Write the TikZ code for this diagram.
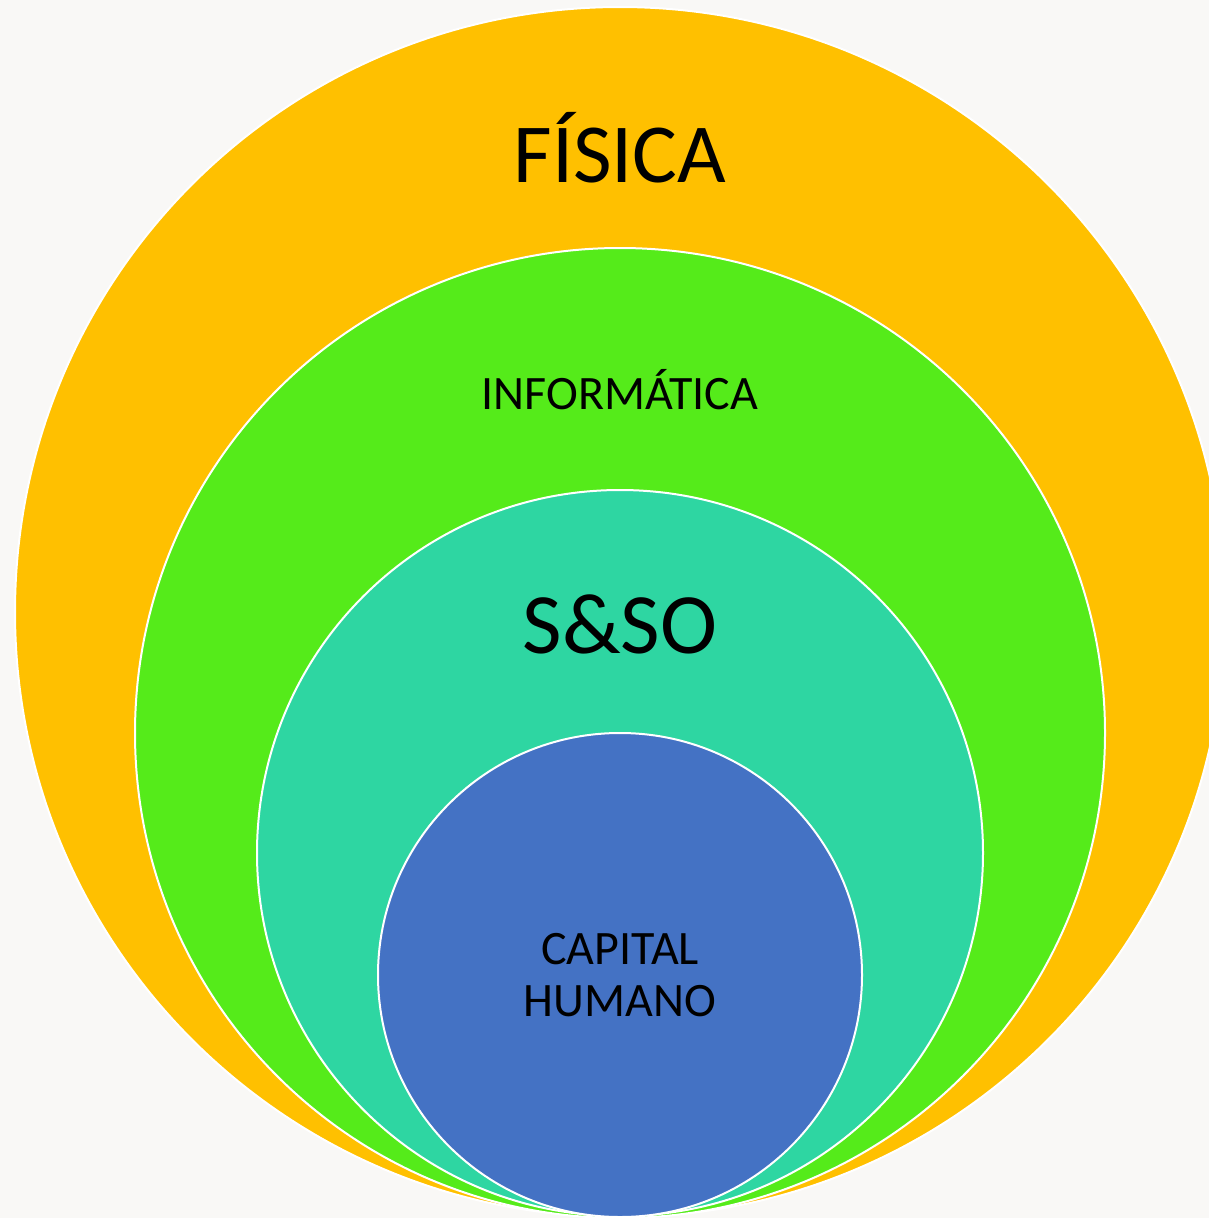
\documentclass[tikz,border=0pt]{standalone}
\usepackage{fontspec}
\setmainfont{Carlito}
\definecolor{bgc}{HTML}{F9F8F6}
\definecolor{orangec}{HTML}{FFC000}
\definecolor{greenc}{HTML}{55EB1A}
\definecolor{tealc}{HTML}{2ED6A2}
\definecolor{bluec}{HTML}{4472C4}
\tikzset{
  ring/.style={draw=white, line width=2pt},
  lbl/.style={inner sep=0pt, align=center, text=black},
}
\begin{document}
\begin{tikzpicture}[x=1pt,y=-1pt]
\useasboundingbox (0,0) rectangle (1209,1218);
\clip (0,0) rectangle (1209,1218);
\fill[bgc] (0,0) rectangle (1209,1218);
\fill[orangec, ring] (620,612) circle (605);
\fill[greenc, ring] (620,733) circle (485);
\fill[tealc, ring] (620,853) circle (363);
\fill[bluec, ring] (620,975) circle (242);
\node[lbl, font=\fontsize{84}{90}\selectfont] (fis) at (620,148) {FÍSICA};
\node[lbl, font=\fontsize{48}{52}\selectfont] (inf) at (620,390) {INFORMÁTICA};
\node[lbl, font=\fontsize{86}{90}\selectfont] (sso) at (620,624) {S\&SO};
\node[lbl, font=\fontsize{48}{52}\selectfont] (cap) at (620,975) {CAPITAL\\HUMANO};
\end{tikzpicture}
\end{document}
